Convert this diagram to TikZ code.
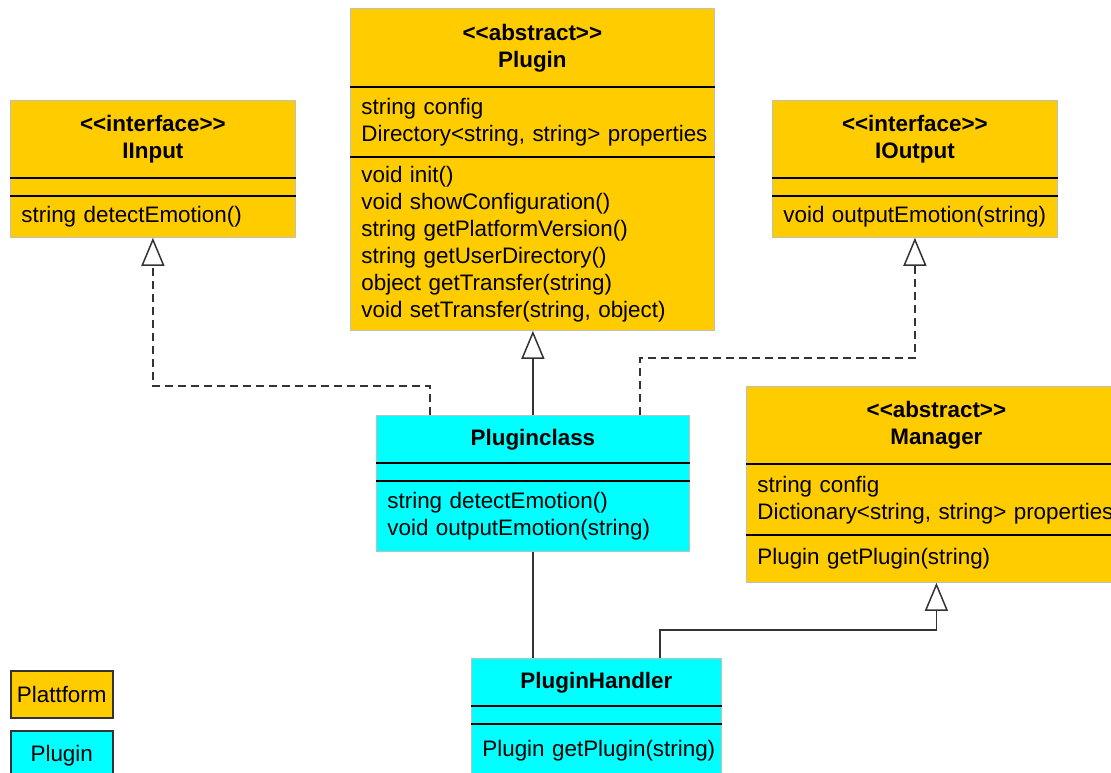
\documentclass[tikz,border=0pt]{standalone}
\usepackage{fontspec}
\setmainfont{Liberation Sans}
\usetikzlibrary{arrows.meta,positioning}

\definecolor{plattform}{RGB}{255,204,0}
\definecolor{pluginc}{RGB}{0,255,255}
\newcommand{\stereo}[1]{<\kern0pt<#1>\kern0pt>}

\begin{document}
\begin{tikzpicture}
[x=1pt,y=-1pt,
font=\fontsize{22.4}{27}\selectfont,
%
comp/.style={shape=rectangle,draw=black!25,line width=.8pt,anchor=north west,inner xsep=11pt,inner ysep=0pt,align=left},
head/.style={comp,align=center,font=\fontsize{22.4}{27}\selectfont\bfseries},
plat/.style={fill=plattform},
plug/.style={fill=pluginc},
legend/.style={shape=rectangle,draw=black!80,line width=1.5pt,inner sep=0pt,anchor=north west},
sep/.style={draw,line width=1.6pt,black},
%
realize/.style={draw,dash pattern=on 8pt off 5pt,line width=1.5pt,black!80,
  -{Triangle[open,length=28pt,width=23pt,line width=1.5pt]}},
extend/.style={draw,line width=1.5pt,black!80,
  -{Triangle[open,length=28pt,width=23pt,line width=1.5pt]}},
assoc/.style={draw,line width=1.5pt,black!80}]
%
\useasboundingbox (0,0) rectangle (1111,773);
\clip (0,0) rectangle (1111,773);
%
% Plugin
\node (PlH) [head,plat,minimum width=364pt,minimum height=79pt] at (350,8) {\stereo{abstract}\\Plugin};
\node (PlA) [comp,plat,text width=342pt,minimum height=70pt] at (350,87) {string config\\\mbox{Directory<string, string> properties}};
\node (PlM) [comp,plat,text width=342pt,minimum height=173pt] at (350,157) {void init()\\void showConfiguration()\\string getPlatformVersion()\\string getUserDirectory()\\object getTransfer(string)\\void setTransfer(string, object)};
%%
% IInput
\node (IInH) [head,plat,minimum width=285pt,minimum height=78pt] at (10,100) {\stereo{interface}\\IInput};
\node (IInE) [comp,plat,minimum width=285pt,minimum height=18pt] at (10,178) {};
\node (IInM) [comp,plat,text width=263pt,minimum height=41pt] at (10,196) {string detectEmotion()};
%%
% IOutput
\node (IOutH) [head,plat,minimum width=285pt,minimum height=78pt] at (772,100) {\stereo{interface}\\IOutput};
\node (IOutE) [comp,plat,minimum width=285pt,minimum height=18pt] at (772,178) {};
\node (IOutM) [comp,plat,text width=263pt,minimum height=41pt] at (772,196) {\mbox{void outputEmotion(string)}};
%%
% Pluginclass
\node (PCh) [head,plug,minimum width=313pt,minimum height=48pt] at (376,415) {Pluginclass};
\node (PCe) [comp,plug,minimum width=313pt,minimum height=18pt] at (376,463) {};
\node (PCm) [comp,plug,text width=291pt,minimum height=70pt] at (376,481) {string detectEmotion()\\void outputEmotion(string)};
%%
% Manager
\node (MgH) [head,plat,minimum width=380pt,minimum height=78pt] at (746,386) {\stereo{abstract}\\Manager};
\node (MgA) [comp,plat,text width=358pt,minimum height=71pt] at (746,464) {string config\\\mbox{Dictionary<string, string> properties}};
\node (MgM) [comp,plat,text width=358pt,minimum height=47pt] at (746,535) {Plugin getPlugin(string)};
%%
% PluginHandler
\node (PHh) [head,plug,minimum width=250pt,minimum height=48pt] at (471,658) {PluginHandler};
\node (PHe) [comp,plug,minimum width=250pt,minimum height=18pt] at (471,706) {};
\node (PHm) [comp,plug,text width=228pt,minimum height=52pt] at (471,724) {\mbox{Plugin getPlugin(string)}};
%%
% compartment lines
\foreach \c in {PlA,PlM,IInE,IInM,IOutE,IOutM,PCe,PCm,MgA,MgM,PHe,PHm}
   \draw[sep] (\c.north west) -- (\c.north east);
%%
% realizations (dashed)
\draw[realize] ([xshift=54pt]PCh.north west) |- ([yshift=-148pt]IInM.south) -- (IInM.south);
\draw[realize] ([xshift=264pt]PCh.north west) |- ([yshift=-120pt]IOutM.south) -- (IOutM.south);
%% generalizations
\draw[extend] (PCh.north) -- (PCh.north |- PlM.south);
\draw[extend] ([xshift=189pt]PHh.north west) |- ([yshift=-47pt]MgM.south) -- (MgM.south);
%% association
\draw[assoc] (PCm.south) -- (PCm.south |- PHh.north);
%%
% legend
\node (LgPlat) [legend,plat,minimum width=102pt,minimum height=47pt] at (10,670) {Plattform};
\node (LgPlug) [legend,plug,minimum width=102pt,minimum height=50pt] at (10,730) {Plugin};
\end{tikzpicture}
\end{document}
